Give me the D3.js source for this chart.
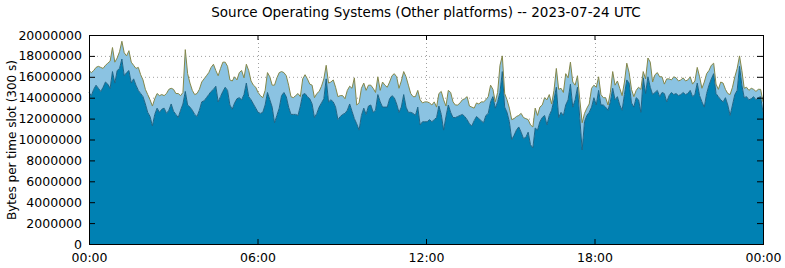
<!DOCTYPE html>
<html>
<head>
<meta charset="utf-8">
<script src="https://cdn.jsdelivr.net/npm/d3@7"></script>
<style>
  body { margin: 0; background: #fff; }
  text { font-family: "DejaVu Sans", sans-serif; fill: #000; }
</style>
</head>
<body>
<script>
var width = 785;
var height = 268;

// 5 minute slots, values in millions of bytes
var darkMillions = [
  14.5, 14.2, 14.8, 15.2, 14.9, 14.6, 15.0, 15.5, 15.3, 14.9, 16.5, 15.4,
  16.6, 16.8, 17.7, 16.1, 16.4, 16.6, 15.4, 15.8, 15.2, 14.7, 14.4, 14.1,
  13.4, 12.6, 12.2, 11.3, 12.4, 13.0, 12.6, 12.9, 13.0, 12.5, 12.8, 13.4,
  12.7, 12.4, 12.1, 12.8, 13.4, 14.6, 13.3, 13.1, 12.8, 12.4, 12.2, 12.8,
  13.6, 13.7, 14.0, 14.3, 14.6, 14.8, 15.1, 13.6, 14.1, 14.6, 15.0, 14.7,
  13.3, 12.9, 13.5, 13.9, 14.0, 13.8, 14.3, 15.4, 14.1, 13.8, 13.4, 13.0,
  12.6, 12.5, 12.6, 13.3, 14.5, 13.8, 13.1, 11.6, 12.3, 13.0, 14.2, 14.5,
  14.1, 13.1, 12.4, 12.4, 12.4, 12.3, 13.2, 14.3, 14.4, 14.1, 13.9, 13.4,
  12.1, 12.5, 13.1, 13.5, 13.9, 15.8, 13.6, 13.8, 13.6, 13.1, 11.9, 12.2,
  12.4, 12.5, 12.8, 13.4, 12.7, 12.0, 11.5, 10.9, 12.3, 13.0, 12.4, 13.2,
  13.3, 12.6, 12.8, 14.3, 13.6, 13.1, 13.1, 13.1, 13.9, 14.2, 14.0, 13.4,
  12.6, 13.1, 14.3, 13.1, 12.6, 12.6, 12.5, 12.3, 13.1, 11.4, 11.7, 11.7,
  11.7, 11.9, 11.7, 11.9, 12.1, 13.2, 12.4, 10.9, 12.2, 13.3, 12.6, 12.1,
  12.1, 12.2, 12.3, 12.4, 12.2, 11.9, 11.5, 11.3, 11.8, 12.2, 12.0, 11.8,
  11.6, 12.3, 12.5, 13.6, 14.1, 13.0, 13.6, 14.5, 16.5, 13.1, 12.6, 11.7,
  10.0, 10.4, 10.9, 11.2, 10.7, 10.1, 10.2, 10.7, 9.5, 9.2, 11.1, 10.9,
  11.7, 12.1, 12.3, 11.4, 12.3, 12.8, 13.8, 15.0, 12.1, 12.6, 12.3, 13.3,
  13.8, 15.3, 13.1, 13.8, 15.0, 12.0, 9.0, 11.7, 12.3, 12.6, 13.1, 14.0,
  13.3, 14.7, 13.3, 13.3, 13.1, 12.8, 13.6, 14.9, 13.8, 14.1, 13.3, 12.8,
  14.3, 15.7, 15.4, 13.5, 13.1, 14.0, 13.8, 12.6, 15.9, 14.4, 16.0, 15.0,
  14.3, 14.5, 14.7, 14.1, 14.5, 14.4, 13.6, 14.2, 14.5, 14.3, 14.4, 14.2,
  14.3, 14.5, 14.3, 14.4, 14.7, 14.1, 14.3, 15.4, 14.2, 13.6, 13.1, 14.4,
  15.2, 15.8, 16.3, 14.4, 14.1, 13.8, 13.6, 14.0, 13.3, 12.3, 13.3, 14.3,
  14.7, 17.0, 15.2, 14.0, 14.1, 13.8, 13.9, 14.1, 13.8, 14.0, 14.1, 12.6
];

var lightMillions = [
  2.1, 2.2, 1.8, 1.7, 2.1, 2.3, 1.8, 1.6, 2.0, 2.6, 2.3, 2.0,
  1.2, 1.6, 1.7, 2.2, 1.6, 1.9, 2.0, 1.3, 1.6, 2.2, 1.8, 1.6,
  1.4, 1.7, 1.6, 1.9, 1.5, 1.4, 1.6, 1.4, 1.2, 1.9, 2.0, 1.5,
  2.1, 2.0, 2.3, 1.4, 1.1, 4.0, 3.0, 2.3, 1.9, 1.9, 2.2, 2.0,
  1.9, 2.1, 2.1, 2.1, 2.3, 2.4, 1.5, 2.5, 2.7, 2.8, 2.4, 2.3,
  2.4, 2.7, 2.5, 1.8, 2.4, 2.8, 1.6, 1.8, 2.5, 1.8, 1.8, 2.0,
  1.9, 1.7, 1.4, 1.4, 1.9, 2.2, 2.1, 3.6, 3.6, 3.4, 2.3, 1.9,
  2.0, 2.1, 1.7, 1.6, 1.8, 2.1, 0.9, 1.5, 1.8, 1.7, 1.4, 1.8,
  1.9, 1.9, 1.5, 1.6, 1.9, 1.3, 1.8, 1.7, 2.1, 1.9, 2.2, 2.0,
  1.8, 1.4, 1.9, 1.7, 2.2, 3.9, 1.8, 2.6, 2.6, 2.4, 2.3, 2.0,
  1.9, 2.3, 1.7, 1.7, 1.1, 2.4, 2.1, 1.9, 1.6, 1.9, 2.3, 2.6,
  2.3, 2.5, 2.2, 2.9, 2.6, 1.8, 1.6, 1.8, 1.6, 2.4, 1.8, 1.9,
  1.9, 1.6, 1.6, 1.7, 1.0, 1.2, 2.2, 2.9, 1.0, 1.4, 1.9, 1.5,
  1.2, 1.1, 1.2, 1.4, 1.7, 2.2, 1.7, 1.8, 1.2, 1.3, 1.4, 1.8,
  2.0, 1.5, 1.6, 1.6, 0.7, 0.6, 0.9, 2.6, 1.5, 1.3, 1.2, 1.3,
  1.9, 1.6, 1.3, 1.1, 1.8, 2.0, 1.8, 1.2, 1.9, 2.0, 1.9, 1.4,
  1.4, 1.2, 1.7, 2.4, 2.0, 0.6, 0.9, 1.8, 2.7, 2.3, 2.2, 3.0,
  2.1, 2.1, 2.4, 1.4, 1.1, 1.8, 2.6, 0.8, 0.7, 0.8, 1.8, 1.2,
  1.7, 1.3, 1.0, 0.7, 0.9, 0.5, 0.9, 1.6, 1.4, 1.5, 1.6, 1.4,
  1.2, 1.6, 1.0, 1.3, 1.0, 0.7, 1.2, 2.2, 0.6, 1.4, 1.8, 2.4,
  1.2, 1.7, 1.7, 1.9, 1.5, 0.9, 2.2, 1.6, 1.2, 1.7, 1.5, 1.4,
  1.4, 1.4, 1.3, 1.3, 1.3, 1.2, 1.3, 1.5, 1.8, 1.3, 2.4, 1.9,
  1.4, 1.3, 1.0, 0.9, 0.7, 1.7, 1.8, 0.8, 1.1, 2.0, 1.7, 1.7,
  2.1, 1.0, 1.4, 0.9, 0.9, 0.9, 1.0, 0.7, 0.8, 0.8, 0.7, 1.0
];

var xTickSlots = [0, 72, 144, 216, 288];
var xTickLabels = ["00:00", "06:00", "12:00", "18:00", "00:00"];
var yTickValues = [0, 2000000, 4000000, 6000000, 8000000, 10000000,
                   12000000, 14000000, 16000000, 18000000, 20000000];

var plotLeft = 89, plotRight = 763, plotTop = 35, plotBottom = 244;

var svg = d3.select("body").append("svg")
    .attr("width", width)
    .attr("height", height);

var x = d3.scaleLinear().domain([0, 287]).range([plotLeft, plotRight]);
var y = d3.scaleLinear().domain([0, 20000000]).range([plotBottom, plotTop]);

var rows = darkMillions.map(function(d, i) {
    return { slot: i, dark: d * 1e6, light: lightMillions[i] * 1e6 };
});
var stacked = d3.stack().keys(["dark", "light"])(rows);

// grid under the areas
var grid = svg.append("g").attr("stroke", "#a0a0a0").attr("stroke-dasharray", "1,3");
yTickValues.slice(1, -1).forEach(function(v) {
    grid.append("line").attr("x1", plotLeft).attr("x2", plotRight)
        .attr("y1", y(v) + 0.5).attr("y2", y(v) + 0.5);
});
var xt = d3.scaleLinear().domain([0, 288]).range([plotLeft, plotRight]);
xTickSlots.slice(1, -1).forEach(function(s) {
    grid.append("line").attr("y1", plotTop).attr("y2", plotBottom)
        .attr("x1", Math.round(xt(s)) + 0.5).attr("x2", Math.round(xt(s)) + 0.5);
});

var area = d3.area()
    .x(function(d) { return x(d.data.slot); })
    .y0(function(d) { return y(d[0]); })
    .y1(function(d) { return y(d[1]); });
var edge = d3.line()
    .x(function(d) { return x(d.data.slot); })
    .y(function(d) { return y(d[1]); });

var fills = ["#0081b3", "#8bc3e2"];
var edges = ["#1d6486", "#84874a"];

svg.selectAll("path.layer").data(stacked).enter().append("path")
    .attr("class", "layer")
    .attr("fill", function(d, i) { return fills[i]; })
    .attr("d", area);

svg.selectAll("path.edge").data(stacked).enter().append("path")
    .attr("class", "edge")
    .attr("fill", "none")
    .attr("stroke", function(d, i) { return edges[i]; })
    .attr("stroke-width", 1)
    .attr("d", edge);

// axes with inward ticks
var fmtX = function(d, i) { return xTickLabels[i]; };

svg.append("g").attr("transform", "translate(0," + plotBottom + ")")
    .call(d3.axisBottom(xt).tickValues(xTickSlots).tickFormat(fmtX).tickSizeInner(-5).tickSizeOuter(0).tickPadding(9))
    .call(function(g) { g.select(".domain").remove(); });
svg.append("g").attr("transform", "translate(0," + plotTop + ")")
    .call(d3.axisTop(xt).tickValues(xTickSlots).tickFormat("").tickSizeInner(-5).tickSizeOuter(0))
    .call(function(g) { g.select(".domain").remove(); });
svg.append("g").attr("transform", "translate(" + plotLeft + ",0)")
    .call(d3.axisLeft(y).tickValues(yTickValues).tickFormat(d3.format("d")).tickSizeInner(-6).tickSizeOuter(0).tickPadding(7))
    .call(function(g) { g.select(".domain").remove(); });
svg.append("g").attr("transform", "translate(" + plotRight + ",0)")
    .call(d3.axisRight(y).tickValues(yTickValues).tickFormat("").tickSizeInner(-6).tickSizeOuter(0))
    .call(function(g) { g.select(".domain").remove(); });

svg.selectAll(".tick text")
    .style("font-family", "DejaVu Sans, sans-serif")
    .style("font-size", "12.5px");

svg.append("rect")
    .attr("x", plotLeft + 0.5).attr("y", plotTop + 0.5)
    .attr("width", plotRight - plotLeft).attr("height", plotBottom - plotTop)
    .attr("fill", "none").attr("stroke", "#000");

svg.append("text")
    .attr("x", 426).attr("y", 17)
    .attr("text-anchor", "middle")
    .style("font-size", "13.5px")
    .text("Source Operating Systems (Other platforms) -- 2023-07-24 UTC");

svg.append("text")
    .attr("transform", "translate(16,140) rotate(-90)")
    .attr("text-anchor", "middle")
    .style("font-size", "12px")
    .text("Bytes per time slot (300 s)");
</script>
</body>
</html>
